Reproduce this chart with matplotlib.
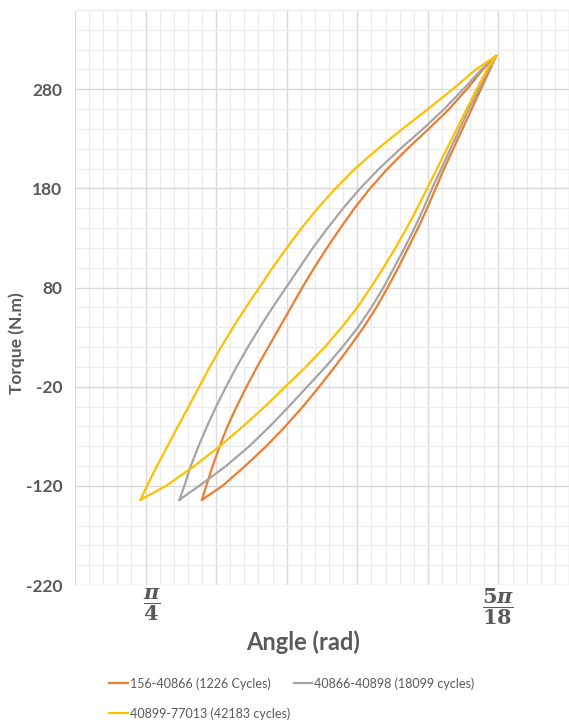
import matplotlib
matplotlib.use('Agg')
import matplotlib.pyplot as plt
import matplotlib.transforms as mtransforms
from matplotlib.ticker import MultipleLocator

plt.rcParams['font.family'] = ['Lato', 'DejaVu Sans']
plt.rcParams['mathtext.fontset'] = 'custom'
plt.rcParams['mathtext.rm'] = 'DejaVu Serif:bold'
plt.rcParams['mathtext.it'] = 'DejaVu Serif:bold:italic'

# torque levels (N.m) at which each branch was read, bottom tip to top tip
torque = [-134, -120, -100, -80, -60, -40, -20, 0, 20, 40, 60, 80, 100, 120,
          140, 160, 180, 200, 220, 240, 260, 280, 300, 314]

# angle in degrees (45 deg = pi/4, 50 deg = 5pi/18)
# "up" = left branch of the loop, "down" = right branch
orange_up = [45.80, 45.86, 45.95, 46.05, 46.16, 46.29, 46.43, 46.58, 46.74, 46.90, 47.06, 47.22, 47.39, 47.57,
             47.76, 47.96, 48.18, 48.43, 48.71, 49.01, 49.30, 49.55, 49.78, 49.97]
orange_down = [45.80, 46.09, 46.41, 46.71, 46.98, 47.23, 47.46, 47.68, 47.89, 48.09, 48.27, 48.43, 48.58, 48.72,
               48.86, 48.99, 49.11, 49.23, 49.36, 49.49, 49.62, 49.75, 49.88, 49.97]

gray_up = [45.48, 45.55, 45.64, 45.75, 45.87, 46.00, 46.14, 46.29, 46.45, 46.62, 46.80, 46.99, 47.18, 47.37,
           47.58, 47.80, 48.04, 48.31, 48.61, 48.93, 49.23, 49.50, 49.76, 49.97]
gray_down = [45.48, 45.76, 46.14, 46.47, 46.76, 47.03, 47.29, 47.55, 47.79, 48.01, 48.20, 48.37, 48.52, 48.67,
             48.81, 48.94, 49.06, 49.19, 49.32, 49.45, 49.58, 49.72, 49.86, 49.97]

yellow_up = [44.93, 45.02, 45.16, 45.31, 45.46, 45.61, 45.76, 45.91, 46.07, 46.24, 46.42, 46.61, 46.80, 47.00,
             47.21, 47.44, 47.69, 47.97, 48.29, 48.64, 49.00, 49.35, 49.68, 49.97]
yellow_down = [44.93, 45.29, 45.69, 46.05, 46.38, 46.69, 46.98, 47.27, 47.54, 47.78, 48.00, 48.19, 48.37, 48.54,
               48.70, 48.85, 48.99, 49.13, 49.27, 49.41, 49.55, 49.69, 49.84, 49.97]

labels = ['156-40866 (1226 Cycles)', '40866-40898 (18099 cycles)', '40899-77013 (42183 cycles)']
colors = ['#ED7D31', '#A5A5A5', '#FFC000']

y_ticks = [-220, -120, -20, 80, 180, 280]
x_ticks = [44, 45, 46, 47, 48, 49, 50, 51]
x_tick_labels = ['', r'$\dfrac{\pi}{4}$', '', '', '', '', r'$\dfrac{5\pi}{18}$', '']

txt = '#595959'

fig = plt.figure(figsize=(5.69, 7.22), dpi=100)
ax = fig.add_axes([75 / 569, 137 / 722, 494 / 569, 575 / 722])

lines = []
loops = [(orange_up, orange_down), (gray_up, gray_down), (yellow_up, yellow_down)]
for (up, down), c, lab in zip(loops, colors, labels):
    xs = up + down[::-1]
    ys = torque + torque[::-1]
    ln, = ax.plot(xs, ys, color=c, lw=1.6, label=lab, solid_joinstyle='round')
    lines.append(ln)

ax.set_xlim(44, 50.96)
ax.set_ylim(-220, 360)
ax.set_xticks(x_ticks)
ax.set_xticklabels(x_tick_labels, fontsize=15, color=txt)
ax.set_yticks(y_ticks)
ax.set_yticklabels([str(v) for v in y_ticks], fontsize=12.5, color=txt, fontweight='bold')
ax.xaxis.set_minor_locator(MultipleLocator(0.2))
ax.yaxis.set_minor_locator(MultipleLocator(20))
ax.tick_params(which='both', length=0)
ax.tick_params(axis='y', pad=9)
ax.tick_params(axis='x', pad=1)
ax.grid(which='major', color='#D9D9D9', lw=1.0)
ax.grid(which='minor', color='#EBEBEB', lw=0.8)
ax.set_axisbelow(True)
for s in ax.spines.values():
    s.set_visible(False)

# the pi/4 label sits a little right of its grid line
shift = mtransforms.ScaledTranslation(6 / 100, 0, fig.dpi_scale_trans)
lbl = ax.get_xticklabels()[1]
lbl.set_transform(lbl.get_transform() + shift)

ax.set_xlabel('Angle (rad)', fontsize=17, fontweight='bold', color=txt)
ax.xaxis.set_label_coords((303 - 75) / 494, (585 - 642) / 575)
ax.xaxis.label.set_va('center')
ax.set_ylabel('Torque (N.m)', fontsize=12.5, fontweight='bold', color=txt)
ax.yaxis.set_label_coords((17 - 75) / 494, (585 - 343) / 575)
ax.yaxis.label.set_va('center')

# order so that 2 columns read row by row
fig.legend([lines[0], lines[2], lines[1]], [labels[0], labels[2], labels[1]],
           ncol=2, loc='upper left', bbox_to_anchor=(109 / 569, 1 - 677 / 722),
           frameon=False, fontsize=9, labelcolor=txt, handlelength=1.5, handletextpad=0.15,
           columnspacing=0.3, labelspacing=1.4, borderaxespad=0, borderpad=0)

fig.savefig('out.png', dpi=100)
